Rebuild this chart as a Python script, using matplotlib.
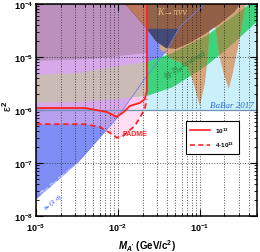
import matplotlib
matplotlib.use('Agg')
import matplotlib.pyplot as plt
import numpy as np
from matplotlib.patches import Polygon
from matplotlib.lines import Line2D

plt.rcParams['font.family'] = ['Liberation Sans', 'DejaVu Sans']
plt.rcParams['mathtext.fontset'] = 'custom'
plt.rcParams['mathtext.rm'] = 'Liberation Sans:bold'
plt.rcParams['mathtext.bf'] = 'Liberation Sans:bold'
plt.rcParams['mathtext.it'] = 'Liberation Sans:italic:bold'

# axis range
m_lim = (1e-3, 0.5)
eps_lim = (1e-8, 1e-4)

# a_e (3 sigma) lower boundary, region above is excluded
ae_m = [1.0e-3, 3.2e-3, 1.0e-2, 2.2e-2, 4.0e-2, 5.7e-2, 1.15e-1]
ae_eps2 = [2.1e-8, 1.0e-7, 7.4e-7, 4.2e-6, 1.4e-5, 3.7e-5, 1.0e-4]
ae_cap = 3.4e-5  # upper edge of the blue area beyond the PADME limit

# (g-2)_mu favoured band
gm2_m = [1e-3, 3.4e-3, 8.7e-3, 2.26e-2, 4.7e-2, 1.2e-1, 2.3e-1, 4.1e-1, 5.4e-1]
gm2_hi = [4.6e-6, 5.0e-6, 6.5e-6, 8.0e-6, 1.2e-5, 2.5e-5, 5.2e-5, 1.0e-4, 1.4e-4]
gm2_lo = [1.36e-6, 1.42e-6, 1.6e-6, 1.84e-6, 2.7e-6, 6.8e-6, 1.55e-5, 3.5e-5, 5.2e-5]

# BaBar 2017
babar_m = [0.02, 1.0]
babar_eps2 = 1e-6

# PADME sensitivity, 1e13 and 4e13 positrons on target
pad_mmax = 0.0226
pad1_m = [1e-3, 3.96e-3, 7.3e-3, 9.7e-3, 0.0118, 0.014, 0.0185, 0.0213, 0.0226, 0.0226]
pad1_eps2 = [1.09e-6, 1.09e-6, 9.2e-7, 7.4e-7, 9.2e-7, 1.19e-6, 1.36e-6, 1.6e-6, 2.3e-6, 1e-4]
pad4_m = [1e-3, 3.96e-3, 6.0e-3, 8.0e-3, 9.7e-3, 0.0112, 0.0132, 0.0161, 0.0191, 0.0213, 0.0226]
pad4_eps2 = [5.4e-7, 5.4e-7, 4.8e-7, 3.7e-7, 3.0e-7, 3.1e-7, 3.85e-7, 5.0e-7, 7.7e-7, 1.05e-6, 1.6e-6]

# upper-left excluded area
mauve_m = [1e-3, 4.6e-3, 0.0106, 0.0226]
mauve_eps2 = [8.4e-6, 9.2e-6, 1.05e-5, 1.19e-5]

# K -> pi nu nu
kpnn_m = [0.0122, 0.0166, 0.0226, 0.029, 0.0385, 0.051, 0.0755, 0.115, 0.175, 0.267, 0.31]
kpnn_eps2 = [1e-4, 5.9e-5, 3.4e-5, 2.0e-5, 1.48e-5, 1.42e-5, 1.84e-5, 2.7e-5, 4.2e-5, 7.1e-5, 1e-4]

# tan band with two dips
tan_m = [0.0325, 0.0456, 0.0603, 0.0714, 0.0845, 0.1, 0.115, 0.125, 0.132, 0.144, 0.157,
         0.171, 0.196, 0.226, 0.252, 0.282, 0.307, 0.334, 0.364]
tan_eps2 = [1.42e-5, 9.2e-6, 7.7e-6, 6.5e-6, 3.1e-6, 1.19e-6, 3.1e-6, 9.2e-6, 3.4e-5, 4.2e-5, 3.4e-5,
            1.14e-5, 4.8e-6, 2.5e-6, 4.8e-6, 1.14e-5, 2.2e-5, 4.8e-5, 1e-4]

red = '#ff2020'
pink = '#ffb4e6'

fig = plt.figure(figsize=(2.6, 2.53), dpi=100)
ax = fig.add_axes([36 / 260, 1 - 217 / 253, 221 / 260, 212 / 253])
ax.set_xscale('log')
ax.set_yscale('log')
ax.set_xlim(*m_lim)
ax.set_ylim(*eps_lim)

top = 1e-3


def region(pts, **kw):
    return Polygon(pts, closed=True, transform=ax.transData, lw=0, **kw)


def add(p, z, clip=None):
    ax.add_patch(p)
    p.set_zorder(z)
    if clip is not None:
        p.set_clip_path(clip)
    return p


# shapes
babar_pts = [(babar_m[0], babar_eps2), (babar_m[1], babar_eps2), (babar_m[1], top), (babar_m[0], top)]

lm, le = np.log10(ae_m), np.log10(ae_eps2)
m_cut = 10 ** np.interp(np.log10(ae_cap), le, lm)
ae_pts = [(a, b) for a, b in zip(ae_m, ae_eps2) if a < m_cut]
ae_pts += [(m_cut, ae_cap), (pad_mmax, ae_cap), (pad_mmax, top), (5e-4, top), (5e-4, ae_eps2[0])]

gm2_pts = list(zip(gm2_m, gm2_hi)) + list(zip(gm2_m, gm2_lo))[::-1]
pad1_pts = list(zip(pad1_m, pad1_eps2)) + [(pad_mmax, top), (5e-4, top), (5e-4, pad1_eps2[0])]
pad4_pts = list(zip(pad4_m, pad4_eps2)) + [(pad_mmax, top), (5e-4, top), (5e-4, pad4_eps2[0])]
mauve_pts = list(zip(mauve_m, mauve_eps2)) + [(pad_mmax, top), (5e-4, top), (5e-4, mauve_eps2[0])]
kpnn_pts = list(zip(kpnn_m, kpnn_eps2)) + [(kpnn_m[-1], top), (kpnn_m[0], top)]
tan_pts = list(zip(tan_m, tan_eps2)) + [(tan_m[-1], top), (tan_m[0], top)]
left_pts = [(5e-4, 1e-9), (pad_mmax, 1e-9), (pad_mmax, top), (5e-4, top)]
right_pts = [(pad_mmax, 1e-9), (1.0, 1e-9), (1.0, top), (pad_mmax, top)]

left_clip = region(left_pts)
right_clip = region(right_pts)
ae_clip = region(ae_pts)
tan_clip = region(tan_pts)

add(region(babar_pts, fc='#c9f0fb'), 1.0)
add(region(ae_pts, fc='#7f8ef7'), 1.1)
add(region(gm2_pts, fc='#3dd47b'), 1.2, right_clip)
add(region(tan_pts, fc='#d5a57c'), 1.3)
add(region(gm2_pts, fc='#8d9a4f'), 1.35, tan_clip)
add(region(pad4_pts, fc=pink, alpha=0.45), 1.4)
add(region(pad1_pts, fc=pink, alpha=0.45), 1.45)
add(region(gm2_pts, fc='#c9bdb4', alpha=0.93), 1.5, left_clip)
add(region(mauve_pts, fc='#b98fba', alpha=0.93), 1.55)
add(region(kpnn_pts, fc='#8e5c42', alpha=0.95), 1.6)
add(region(kpnn_pts, fc='#3f4878', alpha=0.95), 1.65, ae_clip)
add(region(kpnn_pts, fc='#c47a5c', alpha=0.95), 1.7, left_clip)

# grid
ax.set_axisbelow(False)
ax.grid(True, axis='x', which='both', ls=':', lw=0.7, color='#222222', alpha=0.75)
ax.grid(True, axis='y', which='major', ls=':', lw=0.7, color='#222222', alpha=0.75)

# boundary lines
ax.plot(ae_m, ae_eps2, color='#6f7ee8', lw=0.6, zorder=3)
ax.plot(m_lim, [babar_eps2, babar_eps2], color='#6f93b5', lw=0.9, zorder=3)
ax.plot(pad1_m, pad1_eps2, color=red, lw=1.3, zorder=4)
ax.plot(pad4_m, pad4_eps2, color=red, lw=1.3, ls=(0, (3, 2)), zorder=4)

# labels inside the plot
ax.text(0.0456, 7.2e-5, 'K→πνν', family=['Liberation Serif', 'DejaVu Serif'], style='italic',
        fontsize=7, color='#e3bd7e', ha='center', va='center', zorder=5)
ax.text(0.066, 7.4e-6, '(g-2)$_{\\mu}$ favored', fontsize=5.5, color='#2f7f3f',
        rotation=30, rotation_mode='anchor', ha='center', va='center', zorder=5)
ax.text(0.245, 1.25e-6, 'BaBar 2017', family=['Liberation Serif', 'DejaVu Serif'], style='italic',
        fontsize=6.5, color='#2f6fd6', ha='center', va='center', zorder=5)
ax.text(0.0163, 3.6e-7, 'PADME', fontsize=5, fontweight='bold', color=red,
        ha='center', va='center', zorder=5)
ax.text(2.3e-3, 6.2e-8, 'Phys. Rev. D86 095029 2012', fontsize=3.3, color='white',
        rotation=38, rotation_mode='anchor', ha='center', va='center', zorder=5)
ax.text(1.6e-3, 1.85e-8, 'a$_e$ (3 σ)', fontsize=4.5, color='#3355ee',
        rotation=38, rotation_mode='anchor', ha='center', va='center', zorder=5)

# legend
handles = [Line2D([], [], color=red, lw=1.2),
           Line2D([], [], color=red, lw=1.2, ls=(0, (3, 2)))]
leg = ax.legend(handles, ['10$^{13}$', '4·10$^{13}$'], loc='upper left',
                bbox_to_anchor=(0.664, 0.462), prop={'size': 4.5, 'weight': 'bold'},
                frameon=True, fancybox=False, edgecolor='black', framealpha=1,
                handlelength=3.2, labelspacing=0.8, borderpad=0.7, handletextpad=0.8)
leg.get_frame().set_linewidth(0.8)
leg.set_zorder(6)

# axes styling
ax.tick_params(which='both', direction='in', top=True, right=True, labelsize=6.5)
ax.tick_params(which='major', length=5, width=0.8)
ax.tick_params(which='minor', length=2.5, width=0.6)
ax.tick_params(axis='y', pad=2)
ax.set_yticks([1e-8, 1e-7, 1e-6, 1e-5, 1e-4])
ax.set_yticklabels([r'$\mathbf{10^{-8}}$', r'$\mathbf{10^{-7}}$', r'$\mathbf{10^{-6}}$',
                    r'$\mathbf{10^{-5}}$', r'$\mathbf{10^{-4}}$'])
ax.set_xticks([1e-3, 1e-2, 1e-1])
ax.set_xticklabels([r'$\mathbf{10^{-3}}$', r'$\mathbf{10^{-2}}$', r'$\mathbf{10^{-1}}$'])
for s in ax.spines.values():
    s.set_linewidth(1.1)
    s.set_zorder(7)

ax.set_xlabel("$M_{A'}$ (GeV/c$^{2}$)", fontsize=7, fontweight='bold', labelpad=3)
ax.set_ylabel('ε$^{2}$', fontsize=8)
ax.yaxis.set_label_coords(-0.1, 0.52)

fig.savefig('out.png', dpi=100)
